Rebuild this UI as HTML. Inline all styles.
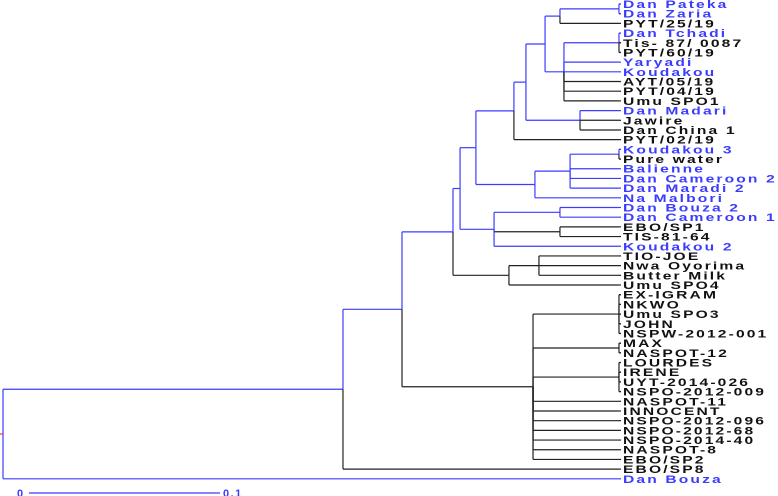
<!DOCTYPE html>
<html><head><meta charset="utf-8"><style>
html,body{margin:0;padding:0;background:#fff;}
svg{display:block;}
text{font-family:"Liberation Sans",sans-serif;font-weight:bold;font-size:11px;letter-spacing:1.5px;}
</style></head><body>
<svg id="chart" width="778" height="496" viewBox="0 0 778 496"></svg>
<script>
const leafNames = ["Dan Pateka","Dan Zaria","PYT/25/19","Dan Tchadi","Tis- 87/ 0087","PYT/60/19","Yaryadi","Koudakou","AYT/05/19","PYT/04/19","Umu SPO1","Dan Madari","Jawire","Dan China 1","PYT/02/19","Koudakou 3","Pure water","Balienne","Dan Cameroon 2","Dan Maradi 2","Na Malbori","Dan Bouza 2","Dan Cameroon 1","EBO/SP1","TIS-81-64","Koudakou 2","TIO-JOE","Nwa Oyorima","Butter Milk","Umu SPO4","EX-IGRAM","NKWO","Umu SPO3","JOHN","NSPW-2012-001","MAX","NASPOT-12","LOURDES","IRENE","UYT-2014-026","NSPO-2012-009","NASPOT-11","INNOCENT","NSPO-2012-096","NSPO-2012-68","NSPO-2014-40","NASPOT-8","EBO/SP2","EBO/SP8","Dan Bouza"];
const leafBlue = [1,1,0,1,0,0,1,1,0,0,0,1,0,0,0,1,0,1,1,1,1,1,1,0,0,1,0,0,0,0,0,0,0,0,0,0,0,0,0,0,0,0,0,0,0,0,0,0,0,1];
const leafDepth = 0.3225;
const nodeDepths = [0.3225,0.2916,0.3225,0.2937,0.2838,0.3021,0.2738,0.2675,0.3225,0.2969,0.2785,0.2476,0.2916,0.2916,0.2571,0.2393,0.2806,0.2649,0.2356,0.3225,0.3225,0.3225,0.2775,0.2089,0.1780,0];
const nodeChildren = [
 [0,1],["n0",2],[3,4,5],["n2",6,7,8,9,10],["n1","n3"],[11,12,13],["n4","n5"],["n6",14],
 [15,16],["n8",17,18,19],["n9",20],["n7","n10"],[21,22],[23,24],["n12","n13",25],["n11","n14"],
 [26,27,28],["n16",29],["n15","n17"],[30,31,32,33,34],[35,36],[37,38,39,40],["n19","n20","n21",41,42,43,44,45,46,47],
 ["n18","n22"],["n23",48],["n24",49]];
const scaleTicks = ["0","0.1"];

const X0=3, PXU=1910, Y0=4, DY=9.69;
const xs = d => X0 + d*PXU;
const ys = i => Y0 + i*DY;
const BLUE="#3c3cff", BLACK="#222";
const svg=document.getElementById('chart');
const NS="http://www.w3.org/2000/svg";
function line(x1,y1,x2,y2,c,name){
  const l=document.createElementNS(NS,'line');
  l.setAttribute('x1',x1);l.setAttribute('y1',y1);l.setAttribute('x2',x2);l.setAttribute('y2',y2);
  l.setAttribute('stroke',c);l.setAttribute('stroke-width',1.2);
  
  
  svg.appendChild(l);
}
const info={};
function resolve(c){
  if(typeof c==='number') return {x:xs(leafDepth),y:ys(c),blue:!!leafBlue[c],leaf:c};
  const k=+c.slice(1);
  if(info[k]) return info[k];
  const kids=nodeChildren[k].map(resolve);
  const y=(kids[0].y+kids[kids.length-1].y)/2;
  const r={x:xs(nodeDepths[k]),y,blue:kids.some(q=>q.blue),kids};
  info[k]=r; return r;
}
function draw(n){
  if(n.kids){
    n.kids.forEach(k=>{
      const c=k.blue?BLUE:BLACK;
      line(n.x,n.y,n.x,k.y,c,'branch-vertical');
      const x2 = Math.max(k.x, n.x+2);
      line(n.x,k.y,x2,k.y,c,'branch-horizontal');
      draw(k);
    });
  } else {
    const t=document.createElementNS(NS,'text');
    const tx=623;
    t.setAttribute('x',0);t.setAttribute('y',0);
    t.setAttribute('transform',`translate(${tx},${n.y+4}) scale(1.42,1)`);
    t.setAttribute('fill',n.blue?BLUE:'#111');
    t.textContent=leafNames[n.leaf];
    
    
    svg.appendChild(t);
    line(n.x,n.y,621,n.y,n.blue?BLUE:BLACK,'leaf-tick');
  }
}
const root=resolve("n"+(nodeChildren.length-1));
draw(root);
line(0,root.y,X0,root.y,"#f33",'root-tick');
const sy=493;
line(xs(0)+26,sy,xs(0.1)+26,sy,BLUE,'scale-bar');
[0,0.1].forEach((v,i)=>{
  const t=document.createElementNS(NS,'text');
  t.setAttribute('x', i===0 ? 17 : xs(v)+29);
  t.setAttribute('y',sy+4);
  t.setAttribute('fill',BLUE);
  t.setAttribute('style','font-size:11px');
  t.textContent=scaleTicks[i];
  
  
  svg.appendChild(t);
});
</script>
</body></html>
